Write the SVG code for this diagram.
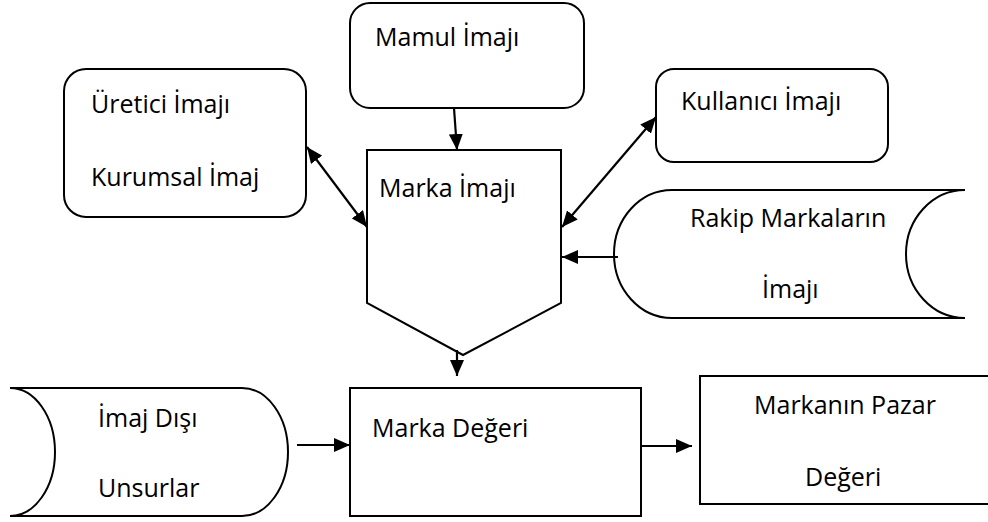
<svg xmlns="http://www.w3.org/2000/svg" width="988" height="522" viewBox="0 0 988 522">
<defs>
<style>
.s{fill:#fff;stroke:#000;stroke-width:2}
.c{fill:none;stroke:#000;stroke-width:2.2}
text{font-family:"Open Sans","Liberation Sans",sans-serif;font-size:25px;fill:#000}
</style>
<marker id="ah" viewBox="0 0 16 14" refX="16" refY="7" markerWidth="16" markerHeight="14" markerUnits="userSpaceOnUse" orient="auto-start-reverse">
<path d="M0,0 L16,7 L0,14 Z" fill="#000"/>
</marker>
</defs>
<rect width="988" height="522" fill="#fff"/>
<g id="mamul">
<rect class="s" x="350" y="3" width="234" height="105" rx="20"/>
<text x="375" y="46">Mamul İmajı</text>
</g>
<g id="uretici">
<rect class="s" x="64" y="69" width="242" height="148" rx="22"/>
<text x="91" y="113">Üretici İmajı</text>
<text x="91" y="186">Kurumsal İmaj</text>
</g>
<g id="kullanici">
<rect class="s" x="656" y="69" width="232" height="93" rx="18"/>
<text x="681" y="110">Kullanıcı İmajı</text>
</g>
<g id="marka-imaji">
<path class="s" d="M367,150 L561,150 L561,303 L463,355 L367,303 Z"/>
<text x="379" y="197">Marka İmajı</text>
</g>
<g id="rakip">
<path class="s" d="M672,190 L965,190 A59,64 0 0 0 965,318 L672,318 A58,64 0 0 1 672,190 Z"/>
<text x="690" y="227">Rakip Markaların</text>
<text x="762" y="298">İmajı</text>
</g>
<g id="imaj-disi">
<path class="s" d="M10,388 L242,388 A46,64 0 0 1 242,516 L10,516 A45,64 0 0 0 10,388 Z"/>
<text x="98" y="427">İmaj Dışı</text>
<text x="98" y="497">Unsurlar</text>
</g>
<g id="marka-degeri">
<rect class="s" x="350" y="388" width="291" height="128"/>
<text x="372" y="437">Marka Değeri</text>
</g>
<g id="pazar-degeri">
<rect class="s" x="700" y="376" width="296" height="128"/>
<text x="754" y="414">Markanın Pazar</text>
<text x="805" y="486">Değeri</text>
</g>
<g id="connectors">
<line class="c" x1="454" y1="108" x2="457" y2="150" marker-end="url(#ah)"/>
<line class="c" x1="307" y1="147" x2="367" y2="227" marker-start="url(#ah)" marker-end="url(#ah)"/>
<line class="c" x1="656" y1="117" x2="562" y2="227" marker-start="url(#ah)" marker-end="url(#ah)"/>
<line class="c" x1="618" y1="257" x2="562" y2="257" marker-end="url(#ah)"/>
<line class="c" x1="457" y1="350" x2="457" y2="376" marker-end="url(#ah)"/>
<line class="c" x1="297" y1="445" x2="350" y2="445" marker-end="url(#ah)"/>
<line class="c" x1="641" y1="446" x2="692" y2="446" marker-end="url(#ah)"/>
</g>
</svg>
